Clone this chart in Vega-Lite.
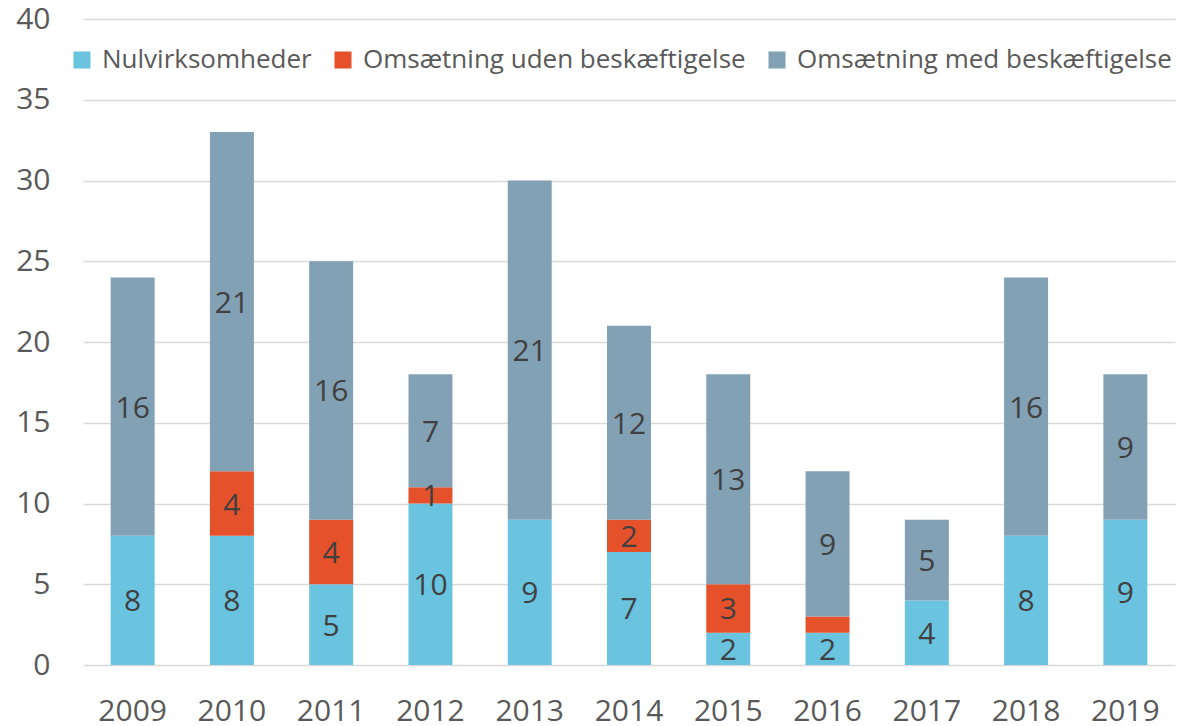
{
  "$schema": "https://vega.github.io/schema/vega-lite/v6.json",
  "width": 1092,
  "height": 646,
  "autosize": {"type": "none"},
  "padding": {"left": 83, "top": 19, "right": 6, "bottom": 61},
  "background": "white",
  "config": {
    "font": "Open Sans",
    "view": {"stroke": null},
    "axis": {"labelFont": "Open Sans", "labelColor": "#595959", "labelFontSize": 30}
  },
  "data": {
    "values": [
      {"year": "2009", "c": "Nulvirksomheder", "k": 1, "v": 8},
      {"year": "2009", "c": "Omsætning med beskæftigelse", "k": 3, "v": 16},
      {"year": "2010", "c": "Nulvirksomheder", "k": 1, "v": 8},
      {"year": "2010", "c": "Omsætning uden beskæftigelse", "k": 2, "v": 4},
      {"year": "2010", "c": "Omsætning med beskæftigelse", "k": 3, "v": 21},
      {"year": "2011", "c": "Nulvirksomheder", "k": 1, "v": 5},
      {"year": "2011", "c": "Omsætning uden beskæftigelse", "k": 2, "v": 4},
      {"year": "2011", "c": "Omsætning med beskæftigelse", "k": 3, "v": 16},
      {"year": "2012", "c": "Nulvirksomheder", "k": 1, "v": 10},
      {"year": "2012", "c": "Omsætning uden beskæftigelse", "k": 2, "v": 1},
      {"year": "2012", "c": "Omsætning med beskæftigelse", "k": 3, "v": 7},
      {"year": "2013", "c": "Nulvirksomheder", "k": 1, "v": 9},
      {"year": "2013", "c": "Omsætning med beskæftigelse", "k": 3, "v": 21},
      {"year": "2014", "c": "Nulvirksomheder", "k": 1, "v": 7},
      {"year": "2014", "c": "Omsætning uden beskæftigelse", "k": 2, "v": 2},
      {"year": "2014", "c": "Omsætning med beskæftigelse", "k": 3, "v": 12},
      {"year": "2015", "c": "Nulvirksomheder", "k": 1, "v": 2},
      {"year": "2015", "c": "Omsætning uden beskæftigelse", "k": 2, "v": 3},
      {"year": "2015", "c": "Omsætning med beskæftigelse", "k": 3, "v": 13},
      {"year": "2016", "c": "Nulvirksomheder", "k": 1, "v": 2},
      {"year": "2016", "c": "Omsætning uden beskæftigelse", "k": 2, "v": 1},
      {"year": "2016", "c": "Omsætning med beskæftigelse", "k": 3, "v": 9},
      {"year": "2017", "c": "Nulvirksomheder", "k": 1, "v": 4},
      {"year": "2017", "c": "Omsætning med beskæftigelse", "k": 3, "v": 5},
      {"year": "2018", "c": "Nulvirksomheder", "k": 1, "v": 8},
      {"year": "2018", "c": "Omsætning med beskæftigelse", "k": 3, "v": 16},
      {"year": "2019", "c": "Nulvirksomheder", "k": 1, "v": 9},
      {"year": "2019", "c": "Omsætning med beskæftigelse", "k": 3, "v": 9}
    ]
  },
  "encoding": {
    "x": {
      "field": "year", "type": "ordinal",
      "scale": {"paddingInner": 0.557, "paddingOuter": 0.2785},
      "axis": {"title": null, "labelAngle": 0, "domain": false, "ticks": false, "labelPadding": 31}
    },
    "y": {
      "field": "v", "type": "quantitative", "stack": "zero",
      "scale": {"domain": [0, 40], "nice": false},
      "axis": {"title": null, "values": [0, 5, 10, 15, 20, 25, 30, 35, 40], "domain": false, "ticks": false,
               "labelPadding": 33, "gridColor": "#D9D9D9", "gridWidth": 1.5}
    },
    "order": {"field": "k", "type": "quantitative"}
  },
  "layer": [
    {
      "mark": {"type": "bar"},
      "encoding": {
        "color": {
          "field": "c", "type": "nominal",
          "scale": {
            "domain": ["Nulvirksomheder", "Omsætning uden beskæftigelse", "Omsætning med beskæftigelse"],
            "range": ["#6AC4E0", "#E5512A", "#82A1B5"]
          },
          "legend": {
            "title": null, "orient": "none", "direction": "horizontal",
            "legendX": -14, "legendY": 28,
            "symbolType": "square", "symbolSize": 290, "symbolStrokeWidth": 0,
            "labelFont": "Open Sans", "labelFontSize": 26, "labelColor": "#595959",
            "labelOffset": 7, "columnPadding": 18, "labelLimit": 600
          }
        }
      }
    },
    {
      "mark": {"type": "text", "font": "Open Sans", "fontSize": 30, "color": "#404040", "baseline": "middle", "dy": 2},
      "encoding": {
        "y": {"field": "v", "type": "quantitative", "stack": "zero", "bandPosition": 0.5},
        "detail": {"field": "c"},
        "text": {"field": "v", "type": "quantitative"},
        "opacity": {
          "condition": {"test": "datum.year == '2016' && datum.k == 2", "value": 0},
          "value": 1
        }
      }
    }
  ]
}
